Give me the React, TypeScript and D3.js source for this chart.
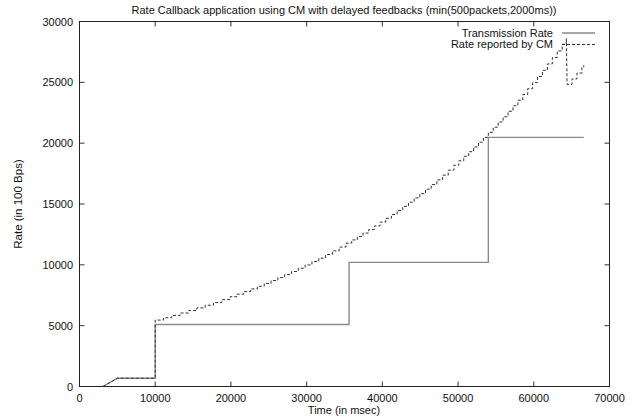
import React, { useEffect, useRef } from 'react';
import * as d3 from 'd3';

// Transmission rate (solid), time in msec, rate in 100 Bps
const txTime = [3100, 5000, 10000, 10000, 35600, 35600, 54000, 54000, 66600];
const txRate = [0, 680, 680, 5100, 5100, 10200, 10200, 20480, 20480];

// Rate reported by CM (dashed), staircase values
const cmTime = [
  3100, 5000, 10000,
  10000, 11100, 12200, 13300, 14400, 15500, 16600, 17700, 18800, 19900,
  20800, 21700, 22600, 23500, 24400, 25300, 26200, 27100, 28000, 28900,
  29800, 30700, 31600, 32500, 33400, 34300, 35200,
  35950, 36700, 37450, 38200, 38950, 39700, 40450, 41200, 41950, 42700,
  43450, 44200, 44950, 45700, 46450, 47200, 47950, 48700, 49450,
  50100, 50750, 51400, 52050, 52700, 53350, 54000, 54650, 55300, 55950,
  56600, 57250, 57900, 58550, 59200, 59850, 60500, 61150, 61800, 62450,
  63100, 63750, 64300,
  64400, 65050, 65700, 66350, 66600,
];
const cmRate = [
  0, 680, 680,
  5460, 5650, 5840, 6040, 6240, 6460, 6680, 6900, 7140, 7380,
  7590, 7800, 8020, 8240, 8470, 8710, 8950, 9200, 9450, 9720,
  9990, 10270, 10550, 10850, 11150, 11460, 11780,
  12050, 12330, 12610, 12900, 13200, 13510, 13820, 14140, 14470, 14800,
  15150, 15500, 15850, 16220, 16600, 16980, 17370, 17780, 18190,
  18550, 18920, 19300, 19690, 20080, 20480, 20890, 21310, 21740, 22170,
  22620, 23070, 23530, 24000, 24480, 24980, 25480, 25990, 26510, 27040,
  27580, 28130, 28600,
  24830, 25280, 25760, 26250, 26400,
];

const xTicks = [0, 10000, 20000, 30000, 40000, 50000, 60000, 70000];
const yTicks = [0, 5000, 10000, 15000, 20000, 25000, 30000];

const W = 634, H = 419;
const M = { left: 79.5, right: 609.5, top: 21.5, bottom: 386.5 };
const FONT = '"Liberation Sans", Arial, sans-serif';

export default function App() {
  const ref = useRef<SVGSVGElement>(null);

  useEffect(() => {
    const svg = d3.select(ref.current);
    svg.selectAll('*').remove();

    const x = d3.scaleLinear().domain([0, 70000]).range([M.left, M.right]);
    const y = d3.scaleLinear().domain([0, 30000]).range([M.bottom, M.top]);

    svg.append('rect').attr('width', W).attr('height', H).attr('fill', '#fff');

    const tickLen = 5;
    const g = svg.append('g').attr('stroke', '#333').attr('stroke-width', 1);
    xTicks.forEach(t => {
      g.append('line').attr('x1', x(t)).attr('x2', x(t)).attr('y1', M.bottom).attr('y2', M.bottom - tickLen);
      g.append('line').attr('x1', x(t)).attr('x2', x(t)).attr('y1', M.top).attr('y2', M.top + tickLen);
    });
    yTicks.forEach(t => {
      g.append('line').attr('x1', M.left).attr('x2', M.left + tickLen).attr('y1', y(t)).attr('y2', y(t));
      g.append('line').attr('x1', M.right).attr('x2', M.right - tickLen).attr('y1', y(t)).attr('y2', y(t));
    });

    const txt = svg.append('g').attr('font-family', FONT).attr('font-size', 11).attr('fill', '#111');
    xTicks.forEach(t => {
      txt.append('text').attr('x', x(t)).attr('y', 402).attr('text-anchor', 'middle').text(String(t));
    });
    yTicks.forEach(t => {
      txt.append('text').attr('x', 73).attr('y', y(t) + 4).attr('text-anchor', 'end').text(String(t));
    });
    txt.append('text').attr('x', 344).attr('y', 14).attr('text-anchor', 'middle')
      .text('Rate Callback application using CM with delayed feedbacks (min(500packets,2000ms))');
    txt.append('text').attr('x', 344).attr('y', 414).attr('text-anchor', 'middle').text('Time (in msec)');
    txt.append('text').attr('transform', `translate(22,${(M.top + M.bottom) / 2}) rotate(-90)`)
      .attr('font-size', 11.5).attr('text-anchor', 'middle').text('Rate (in 100 Bps)');

    const line = d3.line<[number, number]>().x(d => x(d[0])).y(d => y(d[1]));
    const tx = txTime.map((t, i) => [t, txRate[i]] as [number, number]);
    const cmPts: [number, number][] = [];
    cmTime.forEach((t, i) => {
      if (i > 3 && i !== 72 && t !== cmTime[i - 1]) cmPts.push([t, cmRate[i - 1]]);
      cmPts.push([t, cmRate[i]]);
    });

    svg.append('path').attr('d', line(tx)).attr('fill', 'none')
      .attr('stroke', '#8a8a8a').attr('stroke-width', 1.4);
    svg.append('path').attr('d', line(cmPts)).attr('fill', 'none')
      .attr('stroke', '#333').attr('stroke-width', 1).attr('stroke-dasharray', '3,2');

    // legend
    const lg = svg.append('g');
    lg.append('text').attr('x', 553).attr('y', 37).attr('text-anchor', 'end')
      .attr('font-family', FONT).attr('font-size', 11).attr('fill', '#111').text('Transmission Rate');
    lg.append('text').attr('x', 553).attr('y', 48).attr('text-anchor', 'end')
      .attr('font-family', FONT).attr('font-size', 11).attr('fill', '#111').text('Rate reported by CM');
    lg.append('line').attr('x1', 562).attr('x2', 595).attr('y1', 33).attr('y2', 33)
      .attr('stroke', '#8a8a8a').attr('stroke-width', 1.4);
    lg.append('line').attr('x1', 562).attr('x2', 595).attr('y1', 44.5).attr('y2', 44.5)
      .attr('stroke', '#333').attr('stroke-width', 1).attr('stroke-dasharray', '3,2');

    svg.append('rect').attr('x', M.left).attr('y', M.top)
      .attr('width', M.right - M.left).attr('height', M.bottom - M.top)
      .attr('fill', 'none').attr('stroke', '#222').attr('stroke-width', 1);
  }, []);

  return (
    <svg ref={ref} width={W} height={H}
      style={{ position: 'absolute', left: 0, top: 0, display: 'block' }} />
  );
}
